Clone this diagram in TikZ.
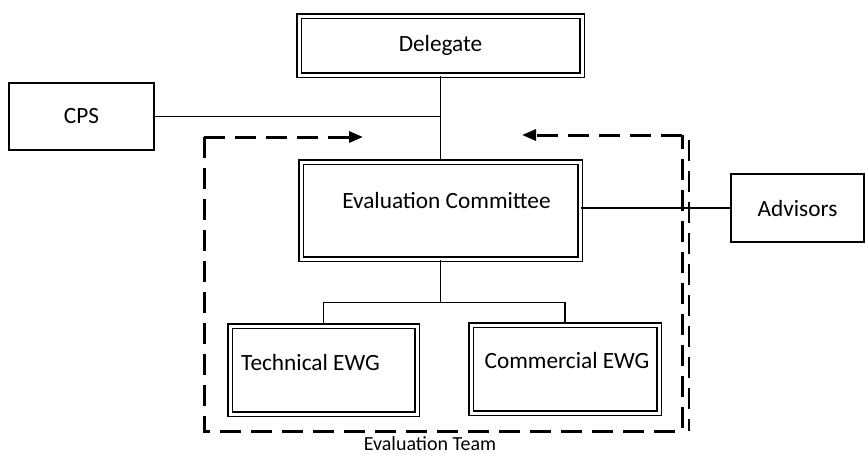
\documentclass[tikz,border=0pt]{standalone}
\usepackage{fontspec}
\setmainfont{Carlito}
\usetikzlibrary{arrows.meta}
\tikzset{
  dbox/.style={draw=black, line width=1.3pt, double=white, double distance=3pt,
    minimum width=#1, inner sep=0pt, font=\fontsize{23.3}{28}\selectfont},
  sbox/.style={draw=black, line width=1.5pt, inner sep=0pt,
    font=\fontsize{23.3}{28}\selectfont},
  conn/.style={draw=black, line width=1.6pt},
  team/.style={draw=black, line width=3pt, dash pattern=on 21pt off 10pt},
  teamthin/.style={draw=black, line width=1.2pt, dash pattern=on 21pt off 10pt},
  tip/.style={-{Triangle[length=14pt,width=11pt]}},
  boxlabel/.style={font=\fontsize{23.3}{28}\selectfont, inner sep=0pt}
}
\begin{document}
\begin{tikzpicture}[x=1pt,y=-1pt]
\useasboundingbox (0,0) rectangle (865,455);
% boxes
\node[dbox=283pt, minimum height=59pt] (del) at (440.5,45.5) {Delegate};
\node[sbox, minimum width=145pt, minimum height=67pt] (cps) at (81.5,116.5) {CPS};
\node[dbox=279pt, minimum height=97pt,
  label={[boxlabel, yshift=10pt, xshift=6pt]center:Evaluation Committee}] (ec) at (440.5,210.5) {};
\node[sbox, minimum width=133pt, minimum height=68pt] (adv) at (797.5,208) {Advisors};
\node[dbox=187pt, minimum height=88pt,
  label={[boxlabel, yshift=8pt, xshift=-13pt]center:Technical EWG}] (tech) at (323.5,370) {};
\node[dbox=188pt, minimum height=88pt,
  label={[boxlabel, yshift=9pt, xshift=2pt]center:Commercial EWG}] (comm) at (565,369) {};
% connectors
\coordinate (jc) at (del.south |- cps.east);
\draw[conn] (cps.east) -- (jc);
\draw[conn] (del.south) -- (ec.north);
\draw[conn] (adv.west -| ec.east) -- (adv.west);
\draw[conn] (ec.south) -- ++(0,43) coordinate (j);
\draw[conn] (tech.north) |- (j) -| (comm.north);
% evaluation team boundary
\coordinate (tl) at (204,137);
\coordinate (bl) at (204,431);
\coordinate (br) at (682,431);
\coordinate (tr) at (682,135);
\coordinate (al) at (363,137);
\coordinate (ar) at (522,135);
\draw[team] (tl) -- (bl) -- (br) -- (tr);
\draw[team, tip] (tl) -- (al);
\draw[team, tip] (tr) -- (ar);
\draw[teamthin] (689,140) -- (689,431);
\node[font=\fontsize{20}{24}\selectfont, inner sep=0pt] (et) at (430,444) {Evaluation Team};
\end{tikzpicture}
\end{document}
